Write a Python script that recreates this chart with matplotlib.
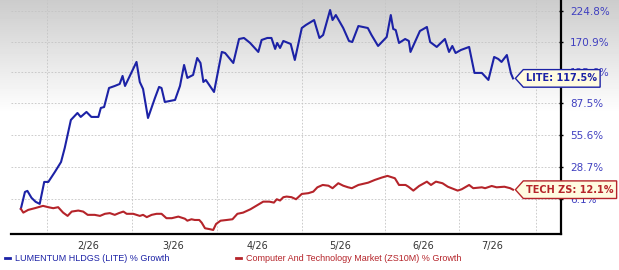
import numpy as np
import matplotlib; matplotlib.use("Agg")
import matplotlib.pyplot as plt
from matplotlib.path import Path
from matplotlib.lines import Line2D

# trading-session index and % growth
lite_t = [0, 1.0, 1.6, 2.6, 3.6, 4.6, 5.7, 6.7, 8.3, 9.8, 10.7, 12.2, 13.8, 14.6, 16.0, 17.2,
          18.9, 19.5, 20.3, 21.5, 22.9, 24.1, 24.8, 25.4, 28.2, 29.0, 29.8, 31.0, 32.7, 33.7,
          34.3, 35.1, 37.6, 38.8, 39.8, 40.6, 42.0, 43.0, 43.8, 44.5, 45.1, 47.1, 49.0, 49.8,
          51.8, 53.2, 54.4, 55.9, 57.9, 58.7, 60.1, 61.1, 62.0, 62.5, 63.2, 64.0, 65.8, 66.8,
          68.5, 69.5, 71.5, 72.8, 73.7, 75.4, 76.0, 76.8, 78.6, 80.0, 80.8, 82.3, 84.6, 85.5,
          87.1, 89.2, 90.2, 90.8, 91.4, 92.2, 93.7, 94.6, 95.0, 97.3, 99.0, 99.8, 101.4, 102.4,
          103.4, 104.4, 105.2, 106.0, 107.3, 109.3, 110.6, 112.4, 114.0, 115.4, 116.4, 117.2,
          118.5, 119.5, 120.0]
lite = [0, 10.6, 11.3, 6.8, 4.3, 3.0, 17.4, 17.4, 24.6, 32.2, 43.7, 69.8, 77.0, 72.9, 78.1, 72.9,
        72.9, 82.4, 83.4, 105.4, 107.9, 110.4, 120.7, 107.9, 139.9, 112.9, 104.2, 71.8, 93.6, 106.7,
        105.4, 89.0, 91.3, 107.9, 135.6, 118.1, 122.0, 145.6, 138.4, 112.9, 115.5, 100.6, 154.6, 153.0,
        138.4, 175.0, 176.7, 168.6, 154.6, 173.4, 176.7, 176.7, 159.2, 168.6, 160.7, 171.8, 167.0, 142.7,
        193.6, 198.9, 207.9, 176.7, 181.6, 226.8, 207.9, 217.2, 193.6, 171.8, 170.1, 197.1, 193.6, 181.6,
        163.8, 178.3, 217.2, 191.9, 190.1, 168.6, 175.0, 171.8, 154.6, 188.4, 195.4, 170.1, 162.3, 168.6,
        175.0, 154.6, 163.8, 153.0, 157.6, 162.3, 124.7, 124.7, 115.5, 147.1, 144.2, 139.9,
        150.0, 124.0, 117.5]

tech_t = [0, 0.6, 1.8, 3.4, 5.4, 6.7, 7.9, 9.1, 10.3, 11.4, 12.4, 14.0, 15.2, 16.3, 18.0, 19.3,
          20.5, 21.7, 22.9, 23.9, 25.0, 25.8, 27.4, 29.0, 29.8, 30.7, 31.9, 33.1, 34.3, 35.5, 36.8,
          38.4, 40.0, 40.6, 41.6, 42.4, 43.5, 44.1, 44.9, 46.1, 46.9, 47.6, 48.7, 50.2, 51.6, 52.8,
          54.2, 56.0, 57.5, 59.1, 60.6, 61.7, 62.4, 63.2, 64.0, 64.8, 66.0, 67.1, 68.5, 70.1, 71.3,
          72.3, 73.6, 75.0, 76.0, 77.4, 78.6, 79.8, 80.7, 82.3, 84.7, 86.3, 88.0, 89.4, 91.2, 92.2,
          93.8, 94.5, 95.7, 97.1, 99.0, 100.0, 101.2, 102.8, 104.1, 106.5, 107.5, 109.3, 110.3,
          112.4, 113.2, 114.8, 116.0, 117.9, 119.3, 120.0]
tech = [0, -2.2, -0.6, 0.4, 1.8, 1.0, 0.4, 1.0, -2.2, -4.1, -1.6, -1.0, -1.6, -3.5, -3.5, -4.1,
        -2.9, -2.5, -3.5, -2.5, -1.6, -2.9, -2.9, -4.1, -3.5, -4.8, -3.5, -2.9, -2.9, -5.4, -5.4,
        -4.5, -5.7, -6.8, -6.0, -6.4, -6.4, -7.9, -10.9, -11.4, -11.8, -8.6, -6.8, -6.4, -6.0, -2.9,
        -2.2, -0.2, 2.0, 4.4, 4.4, 3.8, 5.9, 5.1, 7.2, 7.6, 7.2, 5.9, 9.3, 9.8, 10.8,
        13.7, 15.3, 14.8, 13.1, 16.5, 14.8, 13.7, 13.1, 15.3, 16.9, 18.8, 20.5, 21.7, 20.0, 15.3,
        15.3, 14.1, 11.5, 14.6, 17.6, 15.3, 17.6, 16.5, 14.1, 11.5, 12.4, 15.3, 13.1,
        13.7, 13.1, 14.6, 13.7, 14.1, 13.1, 12.1]

month_bounds = [6.3, 27.1, 47.8, 68.5, 88.8, 106.8, 125.6]
month_pos = [16.3, 37.1, 57.6, 77.8, 98.0, 114.9]
month_labels = ["2/26", "3/26", "4/26", "5/26", "6/26", "7/26"]
y_ticks = [6.1, 28.7, 55.6, 87.5, 125.6, 170.9, 224.8]

BLUE = "#1C22A6"; RED = "#B5242A"; TICKBLUE = "#4040C0"
plt.rcParams.update({"font.family": ["DejaVu Sans"]})

fig = plt.figure(figsize=(6.19, 2.70), dpi=100)

# grey-to-white backdrop
bg = fig.add_axes([0, 0, 1, 1], zorder=0)
grad = np.clip(np.linspace(0, 1, 270) / 0.42, 0, 1)
shade = 0.80 + 0.20 * grad
bg.imshow(np.repeat(shade[:, None], 2, axis=1), cmap="gray", vmin=0, vmax=1,
          aspect="auto", extent=[0, 1, 0, 1])
bg.axis("off")

ax = fig.add_axes([11/619, 36/270, 550/619, 234/270], zorder=1)
ax.set_facecolor("none")
fwd = lambda v: np.log1p(np.asarray(v) / 100.0)
inv = lambda u: 100.0 * np.expm1(u)
ax.set_yscale("function", functions=(fwd, inv))
ax.set_ylim(-13.9, 246.9)
ax.set_xlim(-2.4, 131.7)

ax.plot(lite_t, lite, color=BLUE, lw=1.5, solid_joinstyle="round", zorder=3)
ax.plot(tech_t, tech, color=RED, lw=1.5, solid_joinstyle="round", zorder=3)

ax.yaxis.tick_right()
ax.set_yticks(y_ticks)
ax.set_yticklabels([f"{v}%" for v in y_ticks])
ax.tick_params(axis="y", colors="black", labelcolor=TICKBLUE, labelsize=7.5, length=3,
               width=1, direction="inout", pad=5)
ax.set_xticks(month_bounds)
ax.set_xticklabels([])
ax.set_xticks(month_pos, minor=True)
ax.set_xticklabels(month_labels, minor=True)
ax.tick_params(axis="x", which="both", length=0, labelsize=7, labelcolor="#333333", pad=5)
ax.grid(True, which="major", color="#C4C4C4", lw=0.6, ls=(0, (2, 2)))
for s in ["left", "top"]:
    ax.spines[s].set_visible(False)
for s in ["right", "bottom"]:
    ax.spines[s].set_linewidth(1.6)
    ax.spines[s].set_color("black")


def tag(x0, y0, width, height, mutation_size):
    pad = 0.3 * mutation_size
    x0, y0 = x0 - pad, y0 - pad * 1.3
    x1, y1 = x0 + width + 2 * pad, y0 + height + 2.6 * pad
    h = y1 - y0
    return Path([(x0, y0), (x1, y0), (x1, y1), (x0, y1), (x0 - h * 0.45, (y0 + y1) / 2), (x0, y0)],
                closed=True)


for t, v, name, ec, tc in [(lite_t[-1], lite[-1], "LITE", BLUE, BLUE),
                           (tech_t[-1], tech[-1], "TECH ZS", RED, RED)]:
    ax.annotate(f"{name}: {v}%", xy=(t, v), xytext=(9.5, 0), textcoords="offset points",
                ha="left", va="center", fontsize=7, fontweight="bold", color=tc,
                bbox=dict(boxstyle=tag, fc="#FFFBE0", ec=ec, lw=1.0),
                annotation_clip=False, zorder=5)

handles = [Line2D([], [], color=BLUE, lw=2), Line2D([], [], color=RED, lw=2)]
leg = fig.legend(handles, ["LUMENTUM HLDGS (LITE) % Growth",
                           "Computer And Technology Market (ZS10M) % Growth"],
                 loc="lower left", bbox_to_anchor=(-0.005, -0.005), ncol=2, frameon=False,
                 handlelength=0.5, handletextpad=0.6, columnspacing=7.4,
                 prop={"family": ["Liberation Sans", "DejaVu Sans"], "size": 6.5})
for txt, c in zip(leg.get_texts(), [BLUE, RED]):
    txt.set_color(c)

fig.savefig("out.png", dpi=100)
